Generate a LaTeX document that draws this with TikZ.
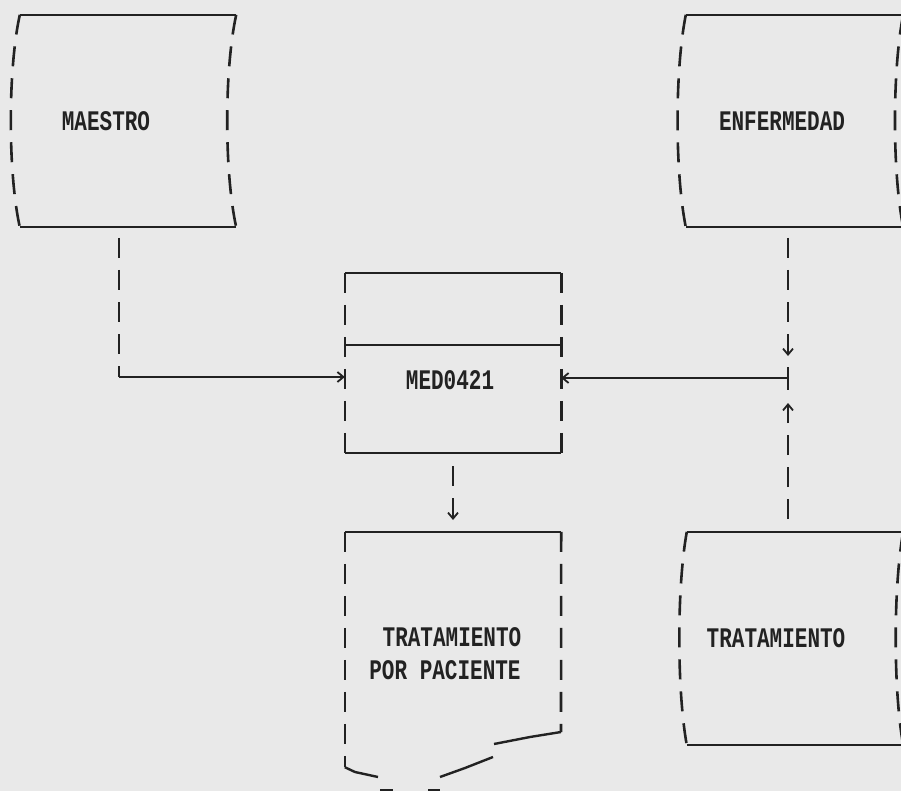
\documentclass[tikz,border=0pt]{standalone}
\usepackage{fontspec}
\setmonofont{Liberation Mono}
\usetikzlibrary{arrows.meta}
\definecolor{paper}{RGB}{233,233,233}
\definecolor{ink}{RGB}{34,34,34}
\newcommand{\dmtext}[1]{\scalebox{1}[1.35]{#1}}
\begin{document}
\begin{tikzpicture}[x=1pt,y=-1pt,
  edge/.style={draw=ink,line width=2.4pt},
  side/.style={draw=ink,line width=2.6pt,dash pattern=on 20pt off 12pt},
  box/.style={rectangle,inner sep=0pt,draw=none},
  lbl/.style={inner sep=0pt,text=ink,font=\ttfamily\bfseries\fontsize{21}{21}\selectfont},
  tip/.style={-{Straight Barb[length=6pt,width=10pt,line width=1.8pt]}}
]
\fill[paper] (0,0) rectangle (901,791);
\useasboundingbox (0,0) rectangle (901,791);

% MAESTRO (stored data)
\node[box,minimum width=216pt,minimum height=212pt] (maestro) at (128,121) {};
\node[lbl] (maestrot) at (106,121) {\dmtext{MAESTRO}};
\draw[edge] (maestro.north west) -- (maestro.north east);
\draw[edge] (maestro.south west) -- (maestro.south east);
\draw[side] (maestro.north west) .. controls +(-12,55) and +(-12,-55) .. (maestro.south west);
\draw[side] (maestro.north east) .. controls +(-12,55) and +(-12,-55) .. (maestro.south east);

% ENFERMEDAD
\node[box,minimum width=217pt,minimum height=212pt] (enf) at (794.5,121) {};
\node[lbl] (enft) at (782,121) {\dmtext{ENFERMEDAD}};
\draw[edge] (enf.north west) -- (enf.north east);
\draw[edge] (enf.south west) -- (enf.south east);
\draw[side] (enf.north west) .. controls +(-11,55) and +(-11,-55) .. (enf.south west);
\draw[side] (enf.north east) .. controls +(-11,55) and +(-11,-55) .. (enf.south east);

% MED0421 (process)
\node[box,minimum width=216pt,minimum height=180pt] (med) at (453,363) {};
\node[lbl] (medt) at (450,380) {\dmtext{MED0421}};
\draw[edge] (med.north west) -- (med.north east);
\draw[edge] (med.south west) -- (med.south east);
\draw[side] (med.north west) -- (med.south west);
\draw[side] (med.north east) -- (med.south east);
\coordinate (mi) at (345,345);
\draw[edge] (mi) -- (mi -| med.east);

% TRATAMIENTO POR PACIENTE (document)
\node[box,minimum width=216pt,minimum height=235pt] (doc) at (453,649.5) {};
\node[lbl] (doct1) at (452,637) {\dmtext{TRATAMIENTO}};
\node[lbl] (doct2) at (445,670) {\dmtext{POR PACIENTE}};
\draw[edge] (doc.north west) -- (doc.north east);
\draw[side] (doc.north west) -- (doc.south west);
\coordinate (dre) at (561,732);
\draw[side] (doc.north east) -- (dre);
\draw[edge] (doc.south west) -- (355,772) -- (378,777);
\draw[edge] (440,777) -- (465,768) -- (493,757);
\draw[edge] (494,744) -- (530,737) -- (dre);
\draw[line width=2.4pt,draw=ink] (380,790) -- (393,790);
\draw[line width=2.4pt,draw=ink] (428,790) -- (440,790);

% TRATAMIENTO
\node[box,minimum width=216pt,minimum height=213pt] (trat) at (795,638.5) {};
\node[lbl] (tratt) at (776,638) {\dmtext{TRATAMIENTO}};
\draw[edge] (trat.north west) -- (trat.north east);
\draw[edge] (trat.south west) -- (trat.south east);
\draw[side] (trat.north west) .. controls +(-10,55) and +(-10,-55) .. (trat.south west);
\draw[side] (trat.north east) .. controls +(-10,55) and +(-10,-55) .. (trat.south east);

% connectors
\coordinate (c1) at (119,377);
\draw[side] (119,238) -- (c1);
\draw[edge,tip] (c1) -- (med.west |- c1);

\coordinate (j) at (788,378);
\draw[side,tip] (788,238) -- (788,356);
\draw[edge] (788,367) -- (788,390);
\draw[edge,tip] (j) -- (med.east |- j);
\draw[side,tip] (788,519) -- (788,403);

\coordinate (md) at (453,520);
\draw[side,tip] (453,466) -- (md);
\end{tikzpicture}
\end{document}
